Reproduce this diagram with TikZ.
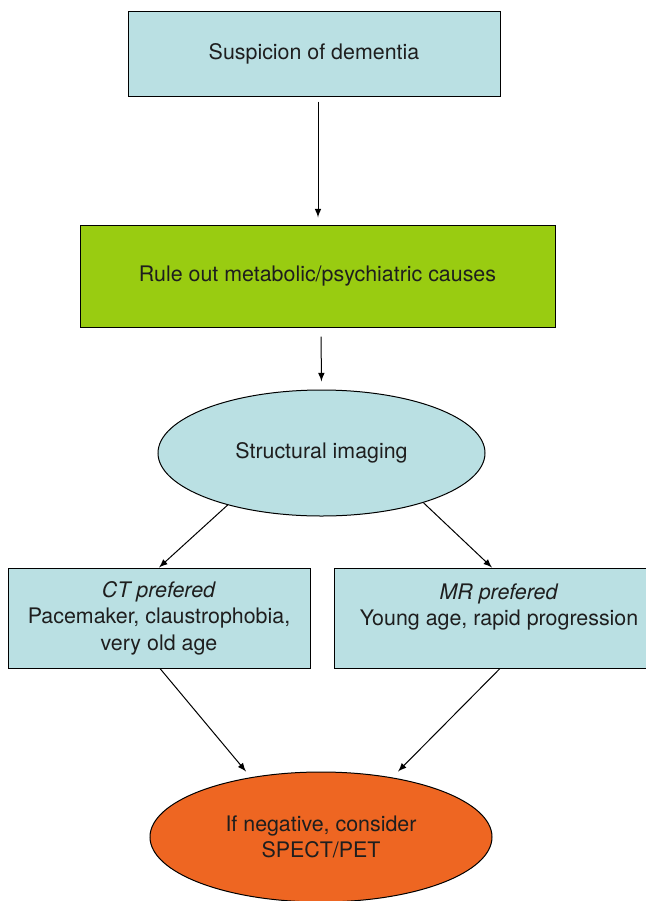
\documentclass[tikz,border=0pt]{standalone}
\usepackage{fontspec}
\setmainfont{TeX Gyre Heros}
\usepackage{xcolor}
\usepackage{tikz}
\usetikzlibrary{arrows.meta, calc, shapes.geometric}
\definecolor{paleBlue}{RGB}{186,224,227}
\definecolor{limeGreen}{RGB}{153,204,17}
\definecolor{burntOrange}{RGB}{238,102,34}
\definecolor{inkGray}{RGB}{30,30,30}
\tikzset{
  flowbox/.style={draw=black, line width=0.5pt, fill=paleBlue, align=center, text=inkGray, inner sep=0pt},
  flowoval/.style={ellipse, draw=black, line width=0.5pt, fill=paleBlue, align=center, text=inkGray, inner sep=0pt},
  flowarrow/.style={-latex, line width=0.5pt, black}
}

\begin{document}
\begin{tikzpicture}[x=0.5pt, y=-0.5pt, font=\fontsize{10.7}{13.2}\selectfont]
  \useasboundingbox (0,0) rectangle (646,901);

  \node[flowbox, minimum width=186pt, minimum height=42.5pt] (susp) at (314,53.5) {Suspicion of dementia};
  \node[flowbox, fill=limeGreen, minimum width=237.5pt, minimum height=51pt] (rule) at (317.5,276) {Rule out metabolic/psychiatric causes};
  \node[flowoval, minimum width=163.5pt, minimum height=63pt] (struct) at (321.5,453) {Structural imaging};
  \node[flowbox, minimum width=151pt, minimum height=50pt] (ct) at (159,618) {\textit{CT prefered}\\Pacemaker, claustrophobia,\\very old age};
  \node[flowbox, minimum width=165pt, minimum height=50pt] (mr) at (499,618) {\textit{MR prefered}\\Young age, rapid progression\\\phantom{x}};
  \node[flowoval, fill=burntOrange, minimum width=171pt, minimum height=65pt] (neg) at (321,837) {If negative, consider\\SPECT/PET};

  \draw[flowarrow, shorten <=2.5pt, shorten >=3.5pt] ([xshift=2pt]susp.south) -- ([xshift=0.25pt]rule.north);
  \draw[flowarrow, shorten <=4.5pt, shorten >=4pt] ([xshift=1.75pt]rule.south) -- (struct.north);
  \draw[flowarrow] (struct.209) -- (ct.north);
  \draw[flowarrow] (struct.334) -- ($(mr.north)+(-7,0)$);
  \draw[flowarrow] ($(ct.south)+(1,0)$) -- ($(neg.north)+(-75,0)$);
  \draw[flowarrow] ($(mr.south)+(1,0)$) -- ($(neg.north)+(77,0)$);

\end{tikzpicture}
\end{document}
